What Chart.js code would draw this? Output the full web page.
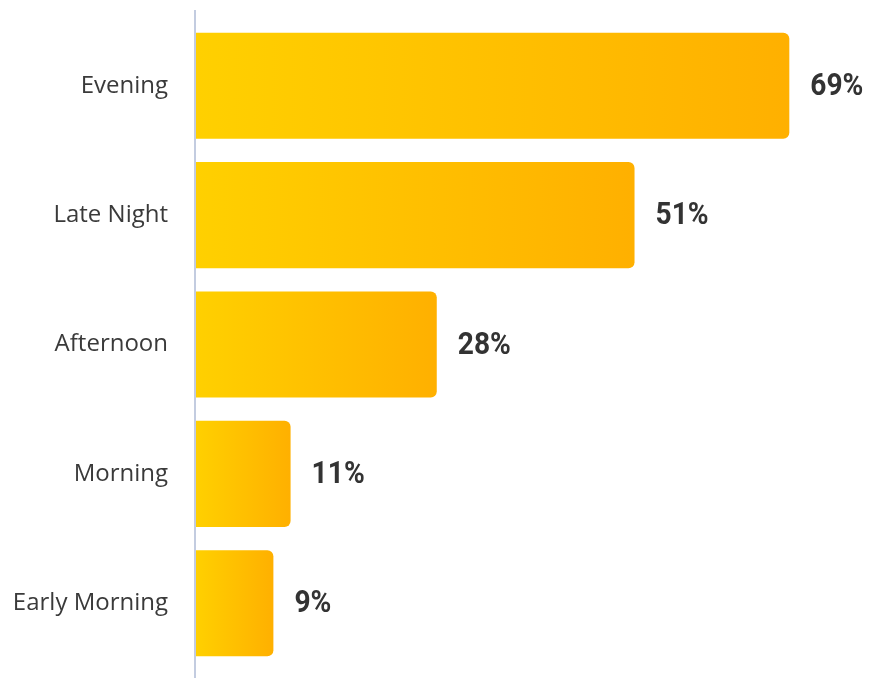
<!DOCTYPE html>
<html>
<head>
<meta charset="utf-8">
<script src="https://cdn.jsdelivr.net/npm/chart.js@4"></script>
<style>
  html, body { margin: 0; padding: 0; background: #fff; }
  #wrap { width: 873px; height: 678px; }
</style>
</head>
<body>
<div id="wrap"><canvas id="timeChart" width="873" height="678"></canvas></div>
<script>
const categories = ['Evening', 'Late Night', 'Afternoon', 'Morning', 'Early Morning'];
const shares = [69, 51, 28, 11, 9];
const shareLabels = ['69%', '51%', '28%', '11%', '9%'];

// gradient per bar, from the axis to the bar's end
function barGradient(context) {
    const chart = context.chart;
    const x = chart.scales.x;
    if (!x || !chart.chartArea) return '#FFC200';
    const x0 = x.getPixelForValue(0);
    const x1 = x.getPixelForValue(context.raw);
    const g = chart.ctx.createLinearGradient(x0, 0, x1, 0);
    g.addColorStop(0, '#FFD000');
    g.addColorStop(1, '#FFB000');
    return g;
}

// vertical axis line, runs past the chart area
const axisLine = {
    id: 'axisLine',
    afterDatasetsDraw(chart) {
        const ctx = chart.ctx;
        const x = chart.chartArea.left - 1;
        ctx.save();
        ctx.strokeStyle = '#C3CCE0';
        ctx.lineWidth = 2;
        ctx.beginPath();
        ctx.moveTo(x, 10);
        ctx.lineTo(x, chart.height);
        ctx.stroke();
        ctx.restore();
    }
};

// percent labels to the right of each bar
const valueLabels = {
    id: 'valueLabels',
    afterDatasetsDraw(chart) {
        const ctx = chart.ctx;
        const meta = chart.getDatasetMeta(0);
        ctx.save();
        ctx.fillStyle = '#333333';
        ctx.font = 'bold 32px Roboto';
        ctx.textBaseline = 'middle';
        meta.data.forEach((bar, i) => {
            ctx.save();
            ctx.translate(bar.x + 21, bar.y);
            ctx.scale(0.88, 1);
            ctx.fillText(shareLabels[i], 0, 1);
            ctx.restore();
        });
        ctx.restore();
    }
};

const chart = new Chart(document.getElementById('timeChart'), {
    type: 'bar',
    data: {
        labels: categories,
        datasets: [{
            data: shares,
            backgroundColor: barGradient,
            borderSkipped: false,
            borderRadius: { topLeft: 0, bottomLeft: 0, topRight: 6, bottomRight: 6 },
            categoryPercentage: 0.82,
            barPercentage: 1
        }]
    },
    options: {
        indexAxis: 'y',
        responsive: false,
        animation: false,
        layout: { padding: { left: 0, right: 2, top: 21, bottom: 10 } },
        plugins: {
            legend: { display: false },
            tooltip: { enabled: false }
        },
        scales: {
            x: {
                display: false,
                min: 0,
                max: 78.5
            },
            y: {
                grid: { display: false, drawTicks: false },
                border: { display: false },
                afterFit(scale) {
                    scale.width = 196;
                    // keep the label padding from shrinking the plot vertically
                    scale.paddingTop = 0;
                    scale.paddingBottom = 0;
                },
                ticks: {
                    padding: 28,
                    color: '#3a3a3a',
                    font: { family: 'Open Sans', size: 24 }
                }
            }
        }
    },
    plugins: [axisLine, valueLabels]
});
</script>
</body>
</html>
